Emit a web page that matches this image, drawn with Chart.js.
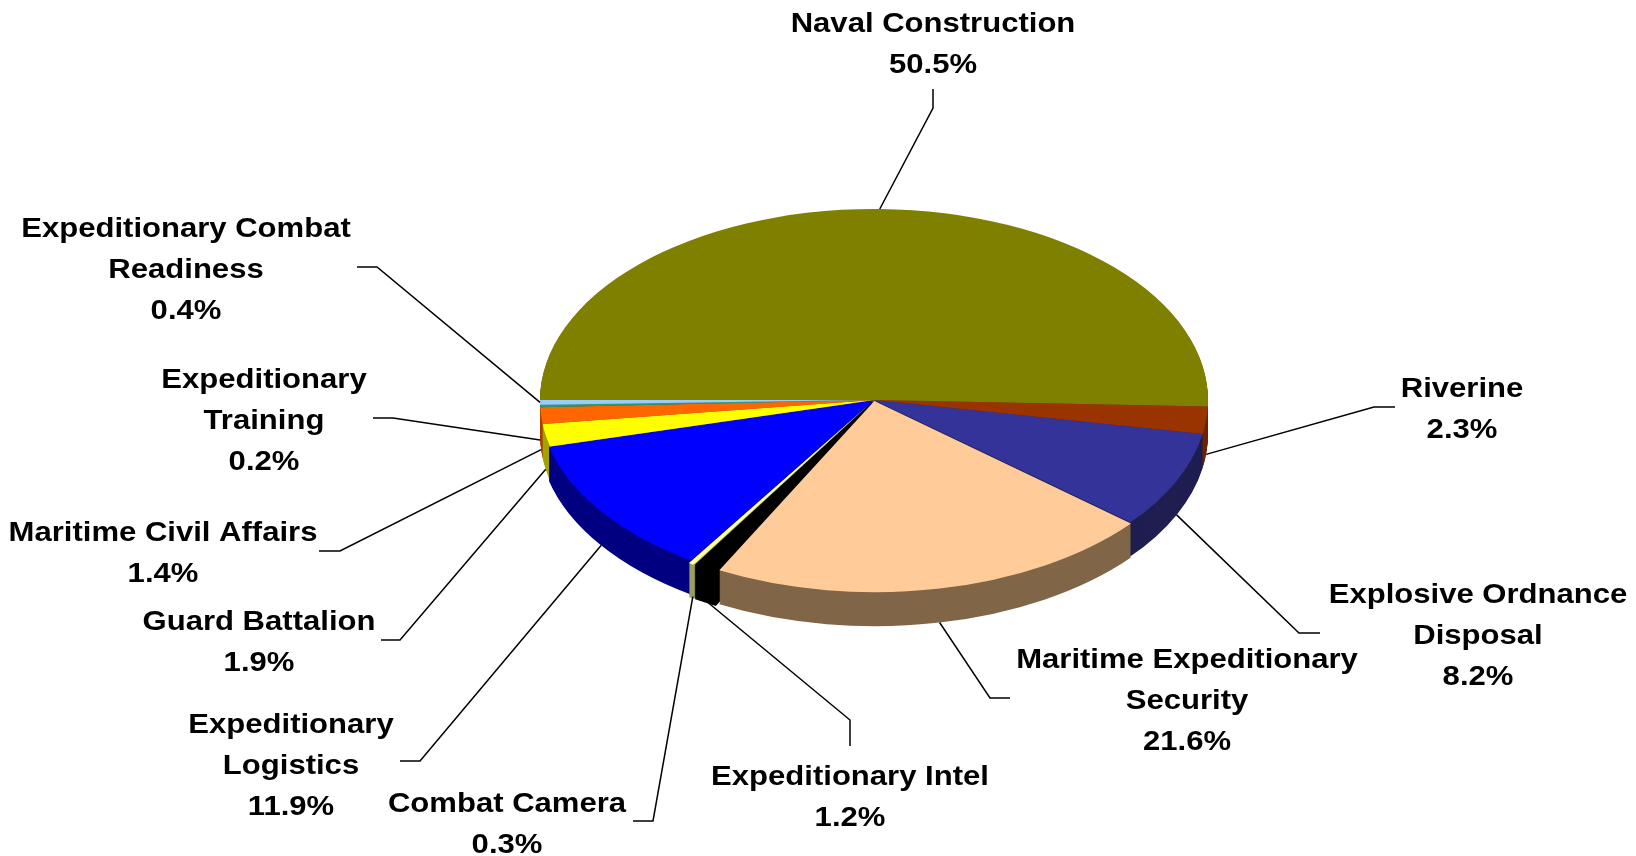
<!DOCTYPE html>
<html><head><meta charset="utf-8">
<script src="https://cdn.jsdelivr.net/npm/chart.js@4.4.1/dist/chart.umd.min.js"></script>
<style>html,body{margin:0;padding:0;background:#fff;overflow:hidden;}</style>
</head><body>
<canvas id="c" width="1636" height="856"></canvas>
<script>
// ---- data ----
const categories = ["Naval Construction","Riverine","Explosive Ordnance Disposal","Maritime Expeditionary Security","Expeditionary Intel","Combat Camera","Expeditionary Logistics","Guard Battalion","Maritime Civil Affairs","Expeditionary Training","Expeditionary Combat Readiness"];
const shares = [50.5, 2.3, 8.2, 21.6, 1.2, 0.3, 11.9, 1.9, 1.4, 0.2, 0.4];
const labelLines = [["Naval Construction"],["Riverine"],["Explosive Ordnance","Disposal"],["Maritime Expeditionary","Security"],["Expeditionary Intel"],["Combat Camera"],["Expeditionary","Logistics"],["Guard Battalion"],["Maritime Civil Affairs"],["Expeditionary","Training"],["Expeditionary Combat","Readiness"]];

// ---- styles ----
const topColors  = ["#808000","#993300","#333399","#FFCC99","#000000","#FFFF99","#0000FF","#FFFF00","#FF6600","#339966","#99CCFF"];
const sideColors = ["#5a5a00","#6e2400","#1e1e50","#806648","#000000","#9c9c5e","#000080","#a3a300","#a84300","#1f5c3d","#5c7a99"];
const explode    = [0, 0, 0, 8, 12, 12, 4, 0, 0, 0, 0];
// label layout: [centerX, firstBaseline, elbowX, elbowY, stubX, stubY]
const labelLayout = [
  [933, 32, 933, 108, 933, 89],
  [1462, 397, 1374, 407, 1395, 407],
  [1478, 603, 1299, 633, 1320, 633],
  [1187, 668, 990, 698, 1010, 698],
  [850, 785, 850, 720, 850, 746],
  [507, 812, 653, 821, 633, 821],
  [291, 733, 420, 761, 400, 761],
  [259, 630, 400, 640, 381, 640],
  [163, 541, 340, 551, 319, 551],
  [264, 388, 393, 418, 373, 418],
  [186, 237, 377, 267, 357, 267]
];
const K = 0.572, DEPTH = 34, LINE_H = 41, TEXT_SX = 1.15;

const pie3d = {
  id: 'pie3d',
  beforeDatasetsDraw(chart) {
    const meta = chart.getDatasetMeta(0);
    const ctx = chart.ctx;
    const cx = meta.data[0].x, cy = meta.data[0].y;
    ctx.save();
    ctx.translate(cx, cy); ctx.scale(1, K); ctx.translate(-cx, -cy);
    for (let d = DEPTH; d >= 1; d--) {
      ctx.save();
      ctx.translate(0, d / K);
      meta.data.forEach((arc, i) => {
        const fake = Object.create(arc);
        fake.options = Object.assign({}, arc.options, {backgroundColor: sideColors[i], borderWidth: 0});
        arc.draw.call(fake, ctx);
      });
      ctx.restore();
    }
  },
  afterDatasetsDraw(chart) {
    const ctx = chart.ctx;
    ctx.restore();
    const meta = chart.getDatasetMeta(0);
    ctx.save();
    ctx.strokeStyle = '#000';
    ctx.lineWidth = 1.5;
    meta.data.forEach((arc, i) => {
      const mid = (arc.startAngle + arc.endAngle) / 2;
      const off = (arc.options.offset || 0) / 4;
      const r = arc.outerRadius + off;
      const px = arc.x + Math.cos(mid) * r;
      const py = arc.y + Math.sin(mid) * r * K + (Math.sin(mid) > 0.02 ? DEPTH : 0);
      const L = labelLayout[i];
      ctx.beginPath();
      ctx.moveTo(L[4], L[5]);
      ctx.lineTo(L[2], L[3]);
      ctx.lineTo(px, py);
      ctx.stroke();
    });
    ctx.fillStyle = '#000';
    ctx.font = 'bold 27px "Liberation Sans", Arial, sans-serif';
    ctx.textAlign = 'center';
    ctx.textBaseline = 'alphabetic';
    labelLines.forEach((lines, i) => {
      const L = labelLayout[i];
      const all = lines.concat([shares[i].toFixed(1) + '%']);
      all.forEach((t, j) => {
        ctx.save();
        ctx.translate(L[0], L[1] + j * LINE_H);
        ctx.scale(TEXT_SX, 1);
        ctx.fillText(t, 0, 0);
        ctx.restore();
      });
    });
    ctx.restore();
  }
};

new Chart(document.getElementById('c').getContext('2d'), {
  type: 'pie',
  data: {
    labels: categories,
    datasets: [{
      data: shares,
      backgroundColor: topColors,
      borderWidth: 0,
      offset: explode,
      hoverOffset: 0,
      clip: false
    }]
  },
  options: {
    responsive: false,
    animation: false,
    events: [],
    rotation: -90,
    radius: 334,
    layout: {padding: {left: 112, right: 0, top: 0, bottom: 56}},
    plugins: {legend: {display: false}, tooltip: {enabled: false}}
  },
  plugins: [pie3d]
});
</script>
</body></html>
